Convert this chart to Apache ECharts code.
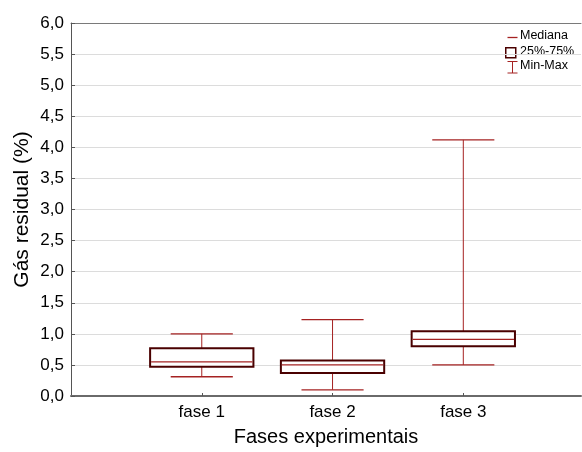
<!DOCTYPE html>
<html>
<head>
<meta charset="utf-8">
<script src="https://cdn.jsdelivr.net/npm/echarts@6/dist/echarts.min.js"></script>
<style>
html,body{margin:0;padding:0;background:#fff;}
#chart{width:582px;height:452px;}
</style>
</head>
<body>
<div id="chart"></div>
<script>
// Data
var categories = ['fase 1', 'fase 2', 'fase 3'];
var minValues = [0.31, 0.10, 0.50];
var q1Values = [0.47, 0.37, 0.80];
var medianValues = [0.55, 0.50, 0.91];
var q3Values = [0.77, 0.57, 1.04];
var maxValues = [1.00, 1.23, 4.12];
var yTickLabels = ['0,0','0,5','1,0','1,5','2,0','2,5','3,0','3,5','4,0','4,5','5,0','5,5','6,0'];
var legendLabels = ['Mediana', '25%-75%', 'Min-Max'];

var boxColor = '#4a0000';
var lineColor = '#a52222';
var fontFam = '"Liberation Sans", Arial, sans-serif';

var seriesData = categories.map(function (c, i) {
  return [i + 1, minValues[i], q1Values[i], medianValues[i], q3Values[i], maxValues[i]];
});

var chart = echarts.init(document.getElementById('chart'), null, {renderer: 'canvas'});

function renderItem(params, api) {
  var x = api.value(0);
  var pMin = api.coord([x, api.value(1)]);
  var pQ1 = api.coord([x, api.value(2)]);
  var pMed = api.coord([x, api.value(3)]);
  var pQ3 = api.coord([x, api.value(4)]);
  var pMax = api.coord([x, api.value(5)]);
  var boxW = api.size([0.79, 0])[0];
  var capW = api.size([0.475, 0])[0];
  var cx = pMed[0];
  var lineStyle = {stroke: lineColor, lineWidth: 1, fill: null};
  return {
    type: 'group',
    children: [
      {type: 'line', shape: {x1: cx, y1: pQ3[1], x2: cx, y2: pMax[1]}, style: lineStyle},
      {type: 'line', shape: {x1: cx, y1: pQ1[1], x2: cx, y2: pMin[1]}, style: lineStyle},
      {type: 'line', shape: {x1: cx - capW / 2, y1: pMax[1], x2: cx + capW / 2, y2: pMax[1]}, style: {stroke: lineColor, lineWidth: 1.3}},
      {type: 'line', shape: {x1: cx - capW / 2, y1: pMin[1], x2: cx + capW / 2, y2: pMin[1]}, style: {stroke: lineColor, lineWidth: 1.3}},
      {type: 'rect', shape: {x: cx - boxW / 2, y: pQ3[1], width: boxW, height: pQ1[1] - pQ3[1]}, style: {stroke: boxColor, lineWidth: 2, fill: '#fff'}},
      {type: 'line', shape: {x1: cx - boxW / 2 + 1, y1: pMed[1], x2: cx + boxW / 2 - 1, y2: pMed[1]}, style: {stroke: lineColor, lineWidth: 1.3}}
    ]
  };
}

var option = {
  animation: false,
  backgroundColor: '#fff',
  grid: {left: 71, right: 1, top: 23, bottom: 53.5, containLabel: false},
  xAxis: [{
    type: 'value',
    min: 0,
    max: 3.9,
    interval: 1,
    name: 'Fases experimentais',
    nameLocation: 'middle',
    nameGap: 31,
    nameTextStyle: {fontFamily: fontFam, fontSize: 20, color: '#000'},
    axisLine: {show: true, lineStyle: {color: '#6a6a6a', width: 2}},
    axisTick: {show: true, inside: true, length: 3, lineStyle: {color: '#555'}},
    axisLabel: {
      show: true, margin: 8, fontFamily: fontFam, fontSize: 17, color: '#000',
      showMinLabel: false, showMaxLabel: false,
      formatter: function (v) { return categories[Math.round(v) - 1] || ''; }
    },
    splitLine: {show: false}
  }, {
    type: 'value',
    position: 'top',
    min: 0, max: 3.9,
    axisLine: {show: true, lineStyle: {color: '#7a7a7a', width: 1}},
    axisTick: {show: false},
    axisLabel: {show: false},
    splitLine: {show: false}
  }],
  yAxis: {
    type: 'value',
    min: 0,
    max: 6,
    interval: 0.5,
    name: 'Gás residual (%)',
    nameLocation: 'middle',
    nameGap: 38,
    nameMoveOverlap: false,
    nameTextStyle: {fontFamily: fontFam, fontSize: 21, color: '#000'},
    axisLine: {show: true, lineStyle: {color: '#555', width: 1}},
    axisTick: {show: true, inside: true, length: 4, lineStyle: {color: '#555'}},
    axisLabel: {
      margin: 7, fontFamily: fontFam, fontSize: 17, color: '#000',
      formatter: function (v) { return yTickLabels[Math.round(v * 2)]; }
    },
    splitLine: {show: true, lineStyle: {color: '#dcdcdc', width: 1}}
  },
  series: [{
    type: 'custom',
    renderItem: renderItem,
    encode: {x: 0, y: [1, 2, 3, 4, 5]},
    data: seriesData,
    z: 5
  }],
  graphic: [
    {type: 'line', left: 505, top: 35, shape: {x1: 0, y1: 0, x2: 10, y2: 0}, style: {stroke: lineColor, lineWidth: 1.3}},
    {type: 'text', left: 520, top: 29, style: {text: legendLabels[0], fontFamily: fontFam, fontSize: 12.5, fill: '#000'}},
    {type: 'rect', left: 505, top: 47, shape: {x: 0, y: 0, width: 10, height: 10}, style: {stroke: boxColor, lineWidth: 1.5, fill: '#fff'}},
    {type: 'text', left: 520, top: 45, style: {text: legendLabels[1], fontFamily: fontFam, fontSize: 12.5, fill: '#000'}},
    {type: 'group', left: 505, top: 59, children: [
      {type: 'line', shape: {x1: 0, y1: 0.5, x2: 10, y2: 0.5}, style: {stroke: lineColor, lineWidth: 1}},
      {type: 'line', shape: {x1: 5, y1: 0.5, x2: 5, y2: 12}, style: {stroke: lineColor, lineWidth: 1}},
      {type: 'line', shape: {x1: 0, y1: 12, x2: 10, y2: 12}, style: {stroke: lineColor, lineWidth: 1}}
    ]},
    {type: 'text', left: 520, top: 59, style: {text: legendLabels[2], fontFamily: fontFam, fontSize: 12.5, fill: '#000'}}
  ]
};

chart.setOption(option);
</script>
</body>
</html>
